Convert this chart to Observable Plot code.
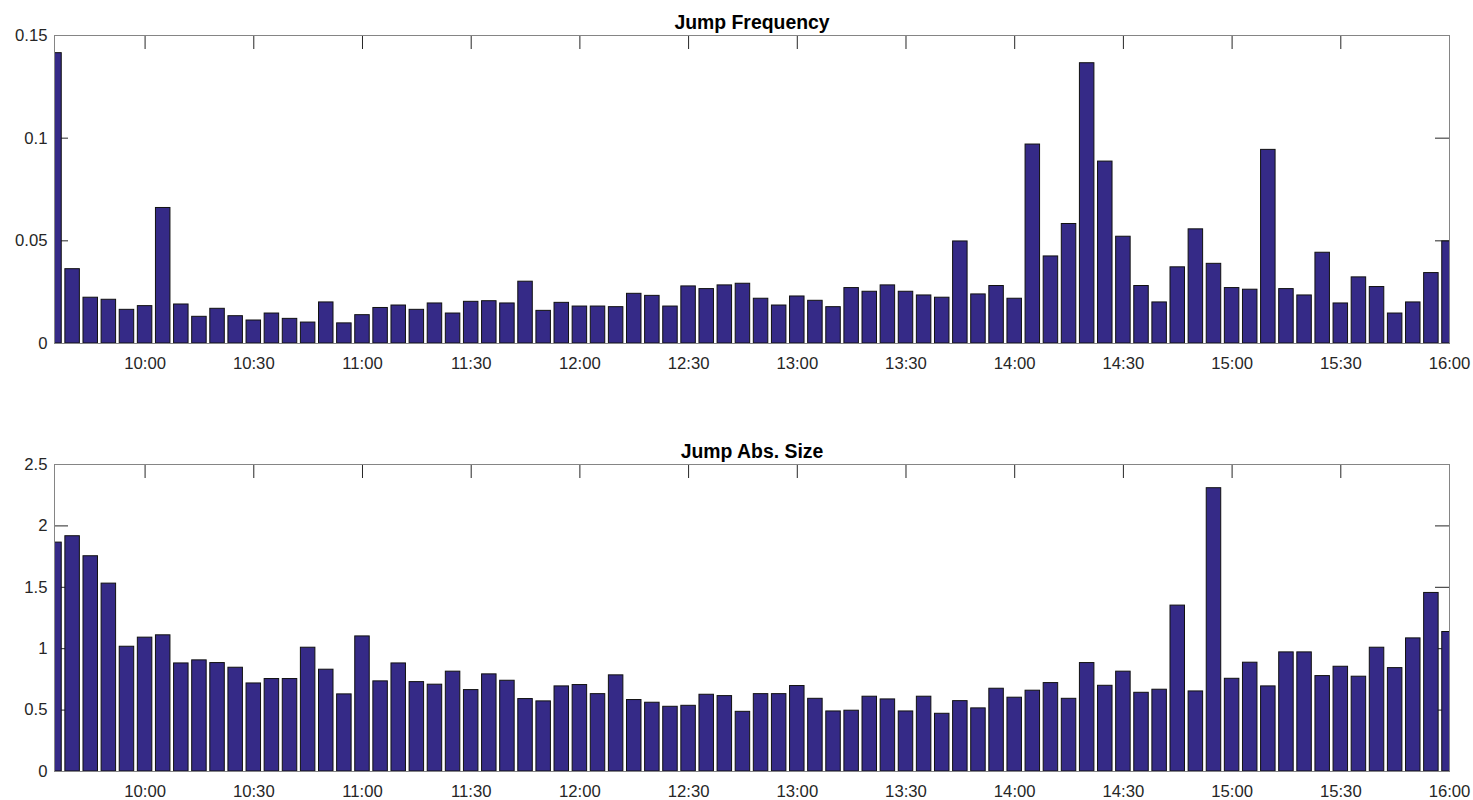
<!DOCTYPE html>
<html>
<head>
<meta charset="utf-8">
<script src="https://cdn.jsdelivr.net/npm/d3@7"></script>
<script src="https://cdn.jsdelivr.net/npm/@observablehq/plot@0.6"></script>
<style>
  html, body { margin: 0; padding: 0; background: #ffffff; }
  #chart svg { display: block; }
</style>
</head>
<body>
<div id="chart"></div>
<script>
// ---- data ----
const times = [
  "9:35","9:40","9:45","9:50","9:55",
  "10:00","10:05","10:10","10:15","10:20","10:25","10:30","10:35","10:40","10:45","10:50","10:55",
  "11:00","11:05","11:10","11:15","11:20","11:25","11:30","11:35","11:40","11:45","11:50","11:55",
  "12:00","12:05","12:10","12:15","12:20","12:25","12:30","12:35","12:40","12:45","12:50","12:55",
  "13:00","13:05","13:10","13:15","13:20","13:25","13:30","13:35","13:40","13:45","13:50","13:55",
  "14:00","14:05","14:10","14:15","14:20","14:25","14:30","14:35","14:40","14:45","14:50","14:55",
  "15:00","15:05","15:10","15:15","15:20","15:25","15:30","15:35","15:40","15:45","15:50","15:55",
  "16:00"
];

const jumpFrequency = [
  0.1414, 0.0362, 0.0223, 0.0213, 0.0164,
  0.0182, 0.0660, 0.0190, 0.0130, 0.0169, 0.0133, 0.0112, 0.0146, 0.0120, 0.0102, 0.0200, 0.0098,
  0.0138, 0.0173, 0.0185, 0.0164, 0.0195, 0.0146, 0.0203, 0.0206, 0.0195, 0.0301, 0.0159, 0.0198,
  0.0180, 0.0180, 0.0177, 0.0242, 0.0232, 0.0180, 0.0278, 0.0265, 0.0283, 0.0291, 0.0218, 0.0185,
  0.0229, 0.0208, 0.0177, 0.0270, 0.0252, 0.0283, 0.0252, 0.0234, 0.0223, 0.0497, 0.0239, 0.0280,
  0.0218, 0.0969, 0.0424, 0.0582, 0.1365, 0.0886, 0.0520, 0.0280, 0.0200, 0.0371, 0.0556, 0.0388,
  0.0270, 0.0262, 0.0943, 0.0265, 0.0234, 0.0442, 0.0195, 0.0322, 0.0275, 0.0146, 0.0200, 0.0343,
  0.0497
];

const jumpAbsSize = [
  1.864, 1.916, 1.753, 1.530, 1.016,
  1.090, 1.109, 0.880, 0.905, 0.883, 0.845, 0.717, 0.753, 0.753, 1.008, 0.829, 0.628,
  1.100, 0.734, 0.880, 0.728, 0.707, 0.813, 0.663, 0.791, 0.739, 0.590, 0.571, 0.693,
  0.704, 0.630, 0.783, 0.582, 0.560, 0.527, 0.535, 0.625, 0.614, 0.486, 0.630, 0.630,
  0.696, 0.592, 0.489, 0.495, 0.609, 0.587, 0.489, 0.609, 0.470, 0.573, 0.514, 0.674,
  0.601, 0.658, 0.720, 0.592, 0.883, 0.698, 0.813, 0.641, 0.666, 1.351, 0.652, 2.307,
  0.755, 0.886, 0.693, 0.970, 0.970, 0.777, 0.853, 0.772, 1.008, 0.842, 1.084, 1.454,
  1.136
];

const xTickLabels = ["10:00","10:30","11:00","11:30","12:00","12:30","13:00","13:30","14:00","14:30","15:00","15:30","16:00"];
const freqTicks = [0, 0.05, 0.1, 0.15];
const sizeTicks = [0, 0.5, 1, 1.5, 2, 2.5];
const titles = ["Jump Frequency", "Jump Abs. Size"];

// ---- helpers ----
const toMin = s => { const [h, m] = s.split(":").map(Number); return h * 60 + m; };
const xTicks = xTickLabels.map(toMin);
const labelOf = new Map(xTickLabels.map(s => [toMin(s), s]));
const BIN = 5, BARW = 0.8;

const W = 1473, H = 400;
const ML = 54, MR = 24;
const plotW = W - ML - MR;
const TICK = 14;
const FONT = "'Liberation Sans', Arial, Helvetica, sans-serif";

function panel(title, values, yTicks, yMax, marginTop, marginBottom) {
  const plotH = H - marginTop - marginBottom;
  const data = times.map((t, i) => {
    const c = toMin(t);
    return {x1: c - BIN * BARW / 2, x2: c + BIN * BARW / 2, v: values[i]};
  });
  return Plot.plot({
    width: W,
    height: H,
    marginLeft: ML,
    marginRight: MR,
    marginTop,
    marginBottom,
    style: {fontFamily: FONT, fontSize: "16.7px", color: "#262626", background: "#ffffff"},
    x: {type: "linear", domain: [toMin(times[0]), toMin(times[times.length - 1])]},
    y: {domain: [0, yMax]},
    marks: [
      Plot.axisX({ticks: xTicks, tickFormat: d => labelOf.get(d), tickSize: 0, tickPadding: 14, label: null, anchor: "bottom"}),
      Plot.axisY({ticks: yTicks, tickFormat: d => String(d), tickSize: 0, tickPadding: 7, label: null, anchor: "left"}),
      // inward ticks on all four sides (MATLAB box style)
      Plot.tickX(xTicks, {x: d => d, insetBottom: plotH - TICK, stroke: "#262626"}),
      Plot.tickX(xTicks, {x: d => d, insetTop: plotH - TICK, stroke: "#262626"}),
      Plot.tickY(yTicks, {y: d => d, insetRight: plotW - TICK, stroke: "#262626"}),
      Plot.tickY(yTicks, {y: d => d, insetLeft: plotW - TICK, stroke: "#262626"}),
      Plot.rectY(data, {x1: "x1", x2: "x2", y: "v", fill: "#352A87", stroke: "#111111", strokeWidth: 1, clip: true}),
      Plot.frame({stroke: "#858585", strokeWidth: 1}),
      Plot.text([title], {frameAnchor: "top", dy: -13, lineAnchor: "middle", text: d => d,
        fontWeight: "bold", fontSize: 19.4, fill: "#000000"})
    ]
  });
}

const chart = document.getElementById("chart");
chart.append(panel(titles[0], jumpFrequency, freqTicks, 0.15, 35, 57));
chart.append(panel(titles[1], jumpAbsSize, sizeTicks, 2.5, 64, 29));
</script>
</body>
</html>
